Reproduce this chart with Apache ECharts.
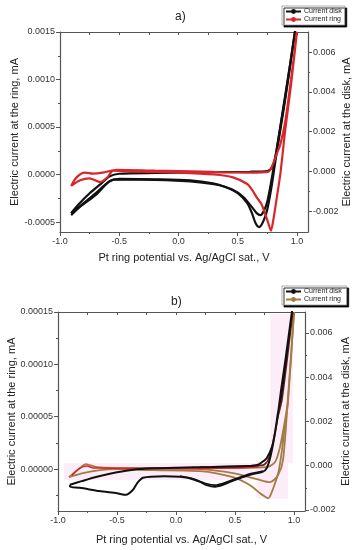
<!DOCTYPE html>
<html><head><meta charset="utf-8">
<script src="https://cdn.jsdelivr.net/npm/echarts@6/dist/echarts.min.js"></script>
<style>html,body{margin:0;padding:0;background:#fff}#c{width:357px;height:550px}</style>
</head><body><div id="c"></div>
<script>
// ---- tick labels ----
const xTickValues = [-1.0, -0.5, 0.0, 0.5, 1.0];
const xMinorValues = [-0.75, -0.25, 0.25, 0.75];
const xTopValues = [-0.75, -0.5, -0.25, 0.0, 0.25, 0.5, 0.75, 1.0];
const aRingTicks = [-0.0005, 0.0, 0.0005, 0.0010, 0.0015];
const aRingMinor = [-0.00025, 0.00025, 0.00075, 0.00125];
const aDiskTicks = [-0.002, 0.0, 0.002, 0.004, 0.006];
const aDiskMinor = [-0.001, 0.001, 0.003, 0.005];
const bRingTicks = [0.0, 0.00005, 0.00010, 0.00015];
const bRingMinor = [-0.000025, 0.000025, 0.000075, 0.000125];
const bDiskTicks = [-0.002, 0.0, 0.002, 0.004, 0.006];
const bDiskMinor = [-0.001, 0.001, 0.003, 0.005];

// ---- panel a) data: [potential V, current mA] ----
const aDiskScan1 = [
[-0.906,-0.0021],[-0.85,-0.0017],[-0.75,-0.0011],[-0.65,-0.0006],[-0.58,-0.00025],[-0.5,-0.00012],[-0.2,-0.00008],[0.2,-0.00005],[0.6,-0.00002],[0.75,0.00002],[0.79,0.0002],[0.82,0.0008],[0.85,0.0019],[0.9,0.0038],[0.94,0.0053],[0.985,0.0071],
[0.94,0.0052],[0.9,0.0036],[0.86,0.0021],[0.82,0.0006],[0.79,-0.0006],[0.77,-0.0013],[0.75,-0.0019],[0.73,-0.0023],[0.70,-0.0027],[0.68,-0.0028],[0.65,-0.0026],[0.62,-0.0021],[0.58,-0.0016],[0.5,-0.0011],[0.4,-0.0008],[0.29,-0.0006],[0.1,-0.00045],[-0.2,-0.0004],[-0.5,-0.00038],[-0.58,-0.0005],[-0.7,-0.0011],[-0.8,-0.0016],[-0.906,-0.0022]];
const aDiskScan2 = [
[0.985,0.0071],[0.9,0.0037],[0.82,0.0008],[0.78,-0.0006],[0.75,-0.0015],[0.72,-0.0020],[0.69,-0.0022],[0.66,-0.0021],[0.62,-0.0018],[0.55,-0.0013],[0.45,-0.0009],[0.3,-0.00065],[0.1,-0.0005],[-0.3,-0.00042],[-0.55,-0.00042],[-0.7,-0.0012],[-0.906,-0.0021]];
const aRingScan1 = [
[-0.906,-0.00012],[-0.86,-0.00003],[-0.79,0.00002],[-0.72,0.00001],[-0.64,0.00002],[-0.52,0.00005],[-0.2,0.00004],[0.2,0.00003],[0.6,0.00002],[0.76,0.00003],[0.8,0.00012],[0.83,0.00022],[0.86,0.00032],[0.9,0.00055],[0.95,0.001],[1.0,0.0015],
[0.95,0.00095],[0.9,0.00046],[0.86,0.00001],[0.83,-0.00024],[0.8,-0.00048],[0.78,-0.00059],[0.76,-0.00052],[0.73,-0.00041],[0.7,-0.00031],[0.66,-0.00024],[0.62,-0.00016],[0.58,-0.0001],[0.46,-0.00003],[0.3,0.0],[0,0.00002],[-0.3,0.00003],[-0.55,0.00004],[-0.6,-0.00003],[-0.66,-0.00008],[-0.75,-0.00004],[-0.83,-0.00006],[-0.906,-0.00012]];

// ---- panel b) data ----
const bDiskScan1 = [
[-0.898,-0.00086],[-0.8,-0.0007],[-0.67,-0.0005],[-0.5,-0.0003],[-0.364,-0.00018],[-0.2,-0.00012],[0,-0.00009],[0.3,-0.00006],[0.6,-0.00002],[0.695,0.000045],[0.74,0.0002],[0.771,0.00036],[0.814,0.00086],[0.839,0.0015],[0.864,0.0024],[0.89,0.0031],[0.93,0.0047],[0.983,0.0070],
[0.93,0.0049],[0.89,0.0034],[0.86,0.0022],[0.83,0.0012],[0.80,0.0004],[0.77,-0.0001],[0.737,-0.00027],[0.627,-0.00041],[0.55,-0.00055],[0.458,-0.00073],[0.38,-0.0009],[0.33,-0.00095],[0.26,-0.00088],[0.203,-0.00073],[0.1,-0.00055],[0.034,-0.0005],[-0.1,-0.00048],[-0.28,-0.00055],[-0.33,-0.0008],[-0.364,-0.00109],[-0.424,-0.00132],[-0.5,-0.00125],[-0.65,-0.00115],[-0.814,-0.001],[-0.898,-0.00095],[-0.898,-0.00086]];
const bDiskScan2 = [
[0.737,-0.00024],[0.627,-0.00037],[0.458,-0.00068],[0.33,-0.00088],[0.26,-0.00082],[0.15,-0.0006],[0.034,-0.00047]];
const bRingScan1 = [
[-0.907,-0.0000077],[-0.814,0.000001],[-0.763,0.0000048],[-0.67,0.0000019],[-0.364,0.000001],[0.2,0.000001],[0.77,0.0000019],[0.839,0.0000067],[0.881,0.000021],[0.924,0.000047],[0.949,0.000066],[1.0,0.00015],
[0.949,0.000064],[0.932,0.00005],[0.898,0.0000183],[0.87,-0.000002],[0.839,-0.0000135],[0.80,-0.000025],[0.78,-0.0000279],[0.75,-0.000026],[0.712,-0.0000231],[0.627,-0.0000154],[0.483,-0.0000077],[0.203,-0.0000019],[-0.2,-0.000001],[-0.5,0],[-0.644,-0.000001],[-0.788,-0.0000038],[-0.907,-0.0000077]];
const bRingScan2 = [
[1.0,0.00015],[0.95,0.00007],[0.907,0.0000087],[0.864,-0.0000058],[0.797,-0.0000125],[0.686,-0.0000096],[0.483,-0.0000038],[0.203,0],[-0.3,0.000001],[-0.5,0.000001]];
const bRingScan3 = [
[-0.88,-0.0000058],[-0.82,0.0000005],[-0.754,0.0000029],[-0.7,0.000001],[-0.644,0.000001],[-0.4,0.0000005],[0,0.0000005],[0.5,0.000001],[0.7,0.000002]];
const bRingScan4 = [
[0.2,0.0000019],[0.737,0.0000038],[0.78,0.0000087],[0.822,0.000025],[0.864,0.00005],[0.898,0.000066],[0.99,0.00015]];

const FONT = '"Liberation Sans", Arial, sans-serif';
const AX = '#555';
const xName = 'Pt ring potential vs. Ag/AgCl sat., V';
const ringName = 'Electric current at the ring, mA';
const diskName = 'Electric current at the disk, mA';

function mainAxis(grid, pos, min, max, ticks, dec, name, gap) {
  return {type:'value', gridIndex:grid, position:pos, min:min, max:max,
    name:name, nameLocation:'middle', nameGap:gap, nameMoveOverlap:false,
    nameTextStyle:{fontFamily:FONT, fontSize:11, color:'#222'},
    axisLine:{show:true, onZero:false, lineStyle:{color:AX, width:1.2}},
    axisTick:{show:true, customValues:ticks, length:4, lineStyle:{color:AX, width:1}},
    axisLabel:{show:true, customValues:ticks, fontFamily:FONT, fontSize:9, color:'#333', margin:5,
      formatter:function(v){return Number(v).toFixed(dec);}},
    splitLine:{show:false}};
}
function tickAxis(grid, pos, min, max, vals, len, inside, line) {
  return {type:'value', gridIndex:grid, position:pos, min:min, max:max,
    axisLine:{show:!!line, onZero:false, lineStyle:{color:AX, width:1.2}},
    axisLabel:{show:false}, splitLine:{show:false},
    axisTick:{show:true, customValues:vals, length:len, inside:!!inside, lineStyle:{color:AX, width:1}}};
}
function ser(name, data, xi, yi, color, width, z) {
  return {type:'line', name:name, data:data, xAxisIndex:xi, yAxisIndex:yi,
    symbol:'circle', symbolSize:3, showSymbol:false, smooth:0.25, animation:false, z:z,
    lineStyle:{color:color, width:width}, itemStyle:{color:color}};
}
function legendAt(top, names) {
  return {left:282, top:top, orient:'vertical', selectedMode:false, data:names,
    itemWidth:15, itemHeight:6, itemGap:1, padding:[2,3,2,3],
    textStyle:{fontFamily:FONT, fontSize:7, color:'#222', padding:[0,0,0,-2]},
    backgroundColor:'#fff', borderColor:'#999', borderWidth:0.8,
    shadowColor:'#000', shadowBlur:0, shadowOffsetX:2, shadowOffsetY:2};
}

const aXmin = -1.0, aXmax = 1.093;
const option = {
  animation:false,
  backgroundColor:'#fff',
  title:[
    {text:'a)', left:170, top:6, textStyle:{fontFamily:FONT, fontSize:12, fontWeight:'normal', color:'#222'}},
    {text:'b)', left:166, top:291, textStyle:{fontFamily:FONT, fontSize:12, fontWeight:'normal', color:'#222'}}
  ],
  legend:[
    legendAt(6, ['Current disk','Current ring']),
    legendAt(286, ['Current disk ','Current ring '])
  ],
  grid:[
    {left:60, top:32, width:248, height:200, outerBoundsMode:'none'},
    {left:58, top:312, width:247, height:199, outerBoundsMode:'none'}
  ],
  xAxis:[
    mainAxis(0,'bottom',aXmin,aXmax,xTickValues,1,xName,20),
    tickAxis(0,'bottom',aXmin,aXmax,xMinorValues,2,false,false),
    tickAxis(0,'top',aXmin,aXmax,xTopValues,3,true,true),
    mainAxis(1,'bottom',aXmin,aXmax,xTickValues,1,xName,23),
    tickAxis(1,'bottom',aXmin,aXmax,xMinorValues,2,false,false),
    tickAxis(1,'top',aXmin,aXmax,xTopValues,3,true,true)
  ],
  yAxis:[
    mainAxis(0,'left',-0.000605,0.0015,aRingTicks,4,ringName,40),
    mainAxis(0,'right',-0.00305,0.00701,aDiskTicks,3,diskName,33),
    tickAxis(0,'left',-0.000605,0.0015,aRingMinor,2,false,false),
    tickAxis(0,'right',-0.00305,0.00701,aDiskMinor,2,false,false),
    mainAxis(1,'left',-0.00004,0.00015,bRingTicks,5,ringName,41),
    mainAxis(1,'right',-0.00205,0.00695,bDiskTicks,3,diskName,35),
    tickAxis(1,'left',-0.00004,0.00015,bRingMinor,2,false,false),
    tickAxis(1,'right',-0.00205,0.00695,bDiskMinor,2,false,false)
  ],
  series:[
    ser('Current disk', aDiskScan1, 0, 1, '#111', 2.2, 2),
    ser('Current disk', aDiskScan2, 0, 1, '#111', 2.2, 2),
    ser('Current ring', aRingScan1, 0, 0, '#d8262b', 2.2, 3),
    Object.assign(ser('Current ring ', bRingScan1, 3, 4, '#a47a45', 1.8, 3), {
      markArea:{silent:true, itemStyle:{color:'rgba(250,210,238,0.4)'}, data:[
        [{xAxis:-0.95, yAxis:0.0000057},{xAxis:0.95, yAxis:-0.0000105}],
        [{xAxis:0.68, yAxis:-0.0000105},{xAxis:0.95, yAxis:-0.000028}],
        [{xAxis:0.80, yAxis:0.0000057},{xAxis:0.99, yAxis:0.000148}]
      ]}}),
    ser('ring cycle 2', bRingScan2, 3, 4, '#a47a45', 1.8, 3),
    ser('ring cycle 3', bRingScan3, 3, 4, '#d8262b', 1.6, 4),
    ser('ring cycle 4', bRingScan4, 3, 4, '#6e1c1c', 1.6, 4),
    ser('Current disk ', bDiskScan1, 3, 5, '#111', 2, 5),
    ser('disk cycle 2', bDiskScan2, 3, 5, '#111', 1.6, 5)
  ]
};
const chart = echarts.init(document.getElementById('c'));
chart.setOption(option);
</script>
</body></html>
